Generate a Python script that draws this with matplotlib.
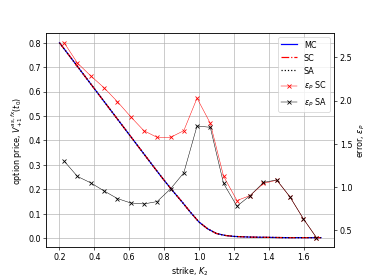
import matplotlib
matplotlib.use("Agg")
import matplotlib.pyplot as plt

# option price curve (MC, SC and SA lie on top of each other)
strikes = [0.2, 0.3, 0.4, 0.5, 0.6, 0.7, 0.75, 0.8, 0.85, 0.9, 0.95, 1.0,
           1.05, 1.1, 1.15, 1.2, 1.3, 1.4, 1.5, 1.6, 1.7]
price_mc = [0.800, 0.706, 0.612, 0.518, 0.424, 0.330, 0.283, 0.237, 0.193,
            0.151, 0.107, 0.066, 0.038, 0.019, 0.011, 0.007, 0.004, 0.003,
            0.002, 0.002, 0.002]
price_sc = price_mc
price_sa = price_mc

# strikes where the errors were evaluated
strikes_err = [0.227, 0.303, 0.379, 0.456, 0.532, 0.608, 0.684, 0.760, 0.837,
               0.913, 0.989, 1.065, 1.141, 1.218, 1.294, 1.370, 1.446, 1.522,
               1.598, 1.674]
err_sc = [2.67, 2.435, 2.287, 2.148, 1.988, 1.814, 1.651, 1.574, 1.574, 1.651,
          2.028, 1.737, 1.124, 0.842, 0.900, 1.040, 1.078, 0.884, 0.633, 0.412]
err_sa = [1.299, 1.121, 1.047, 0.953, 0.865, 0.814, 0.802, 0.830, 0.977, 1.163,
          1.706, 1.690, 1.040, 0.776, 0.900, 1.051, 1.081, 0.884, 0.633, 0.412]

fig, ax = plt.subplots(figsize=(6.4, 4.8), dpi=58)
l1, = ax.plot(strikes, price_mc, "b-", lw=1.5, label="MC")
l2, = ax.plot(strikes, price_sc, "r-.", lw=1.5, label="SC")
l3, = ax.plot(strikes, price_sa, "k:", lw=1.5, label="SA")
ax.set_xlabel("strike, $K_2$")
ax.set_ylabel("option price, $V_{+1}^{as,fx}(t_0)$")
ax.grid(True)

ax2 = ax.twinx()
l4, = ax2.plot(strikes_err, err_sc, "rx-", lw=0.6, label=r"$\epsilon_P$ SC")
l5, = ax2.plot(strikes_err, err_sa, "kx-", lw=0.6, label=r"$\epsilon_P$ SA")
ax2.set_ylabel(r"error, $\epsilon_P$")

lines = [l1, l2, l3, l4, l5]
ax2.legend(lines, [l.get_label() for l in lines], loc="upper right")

fig.savefig("out.png", dpi=58)
